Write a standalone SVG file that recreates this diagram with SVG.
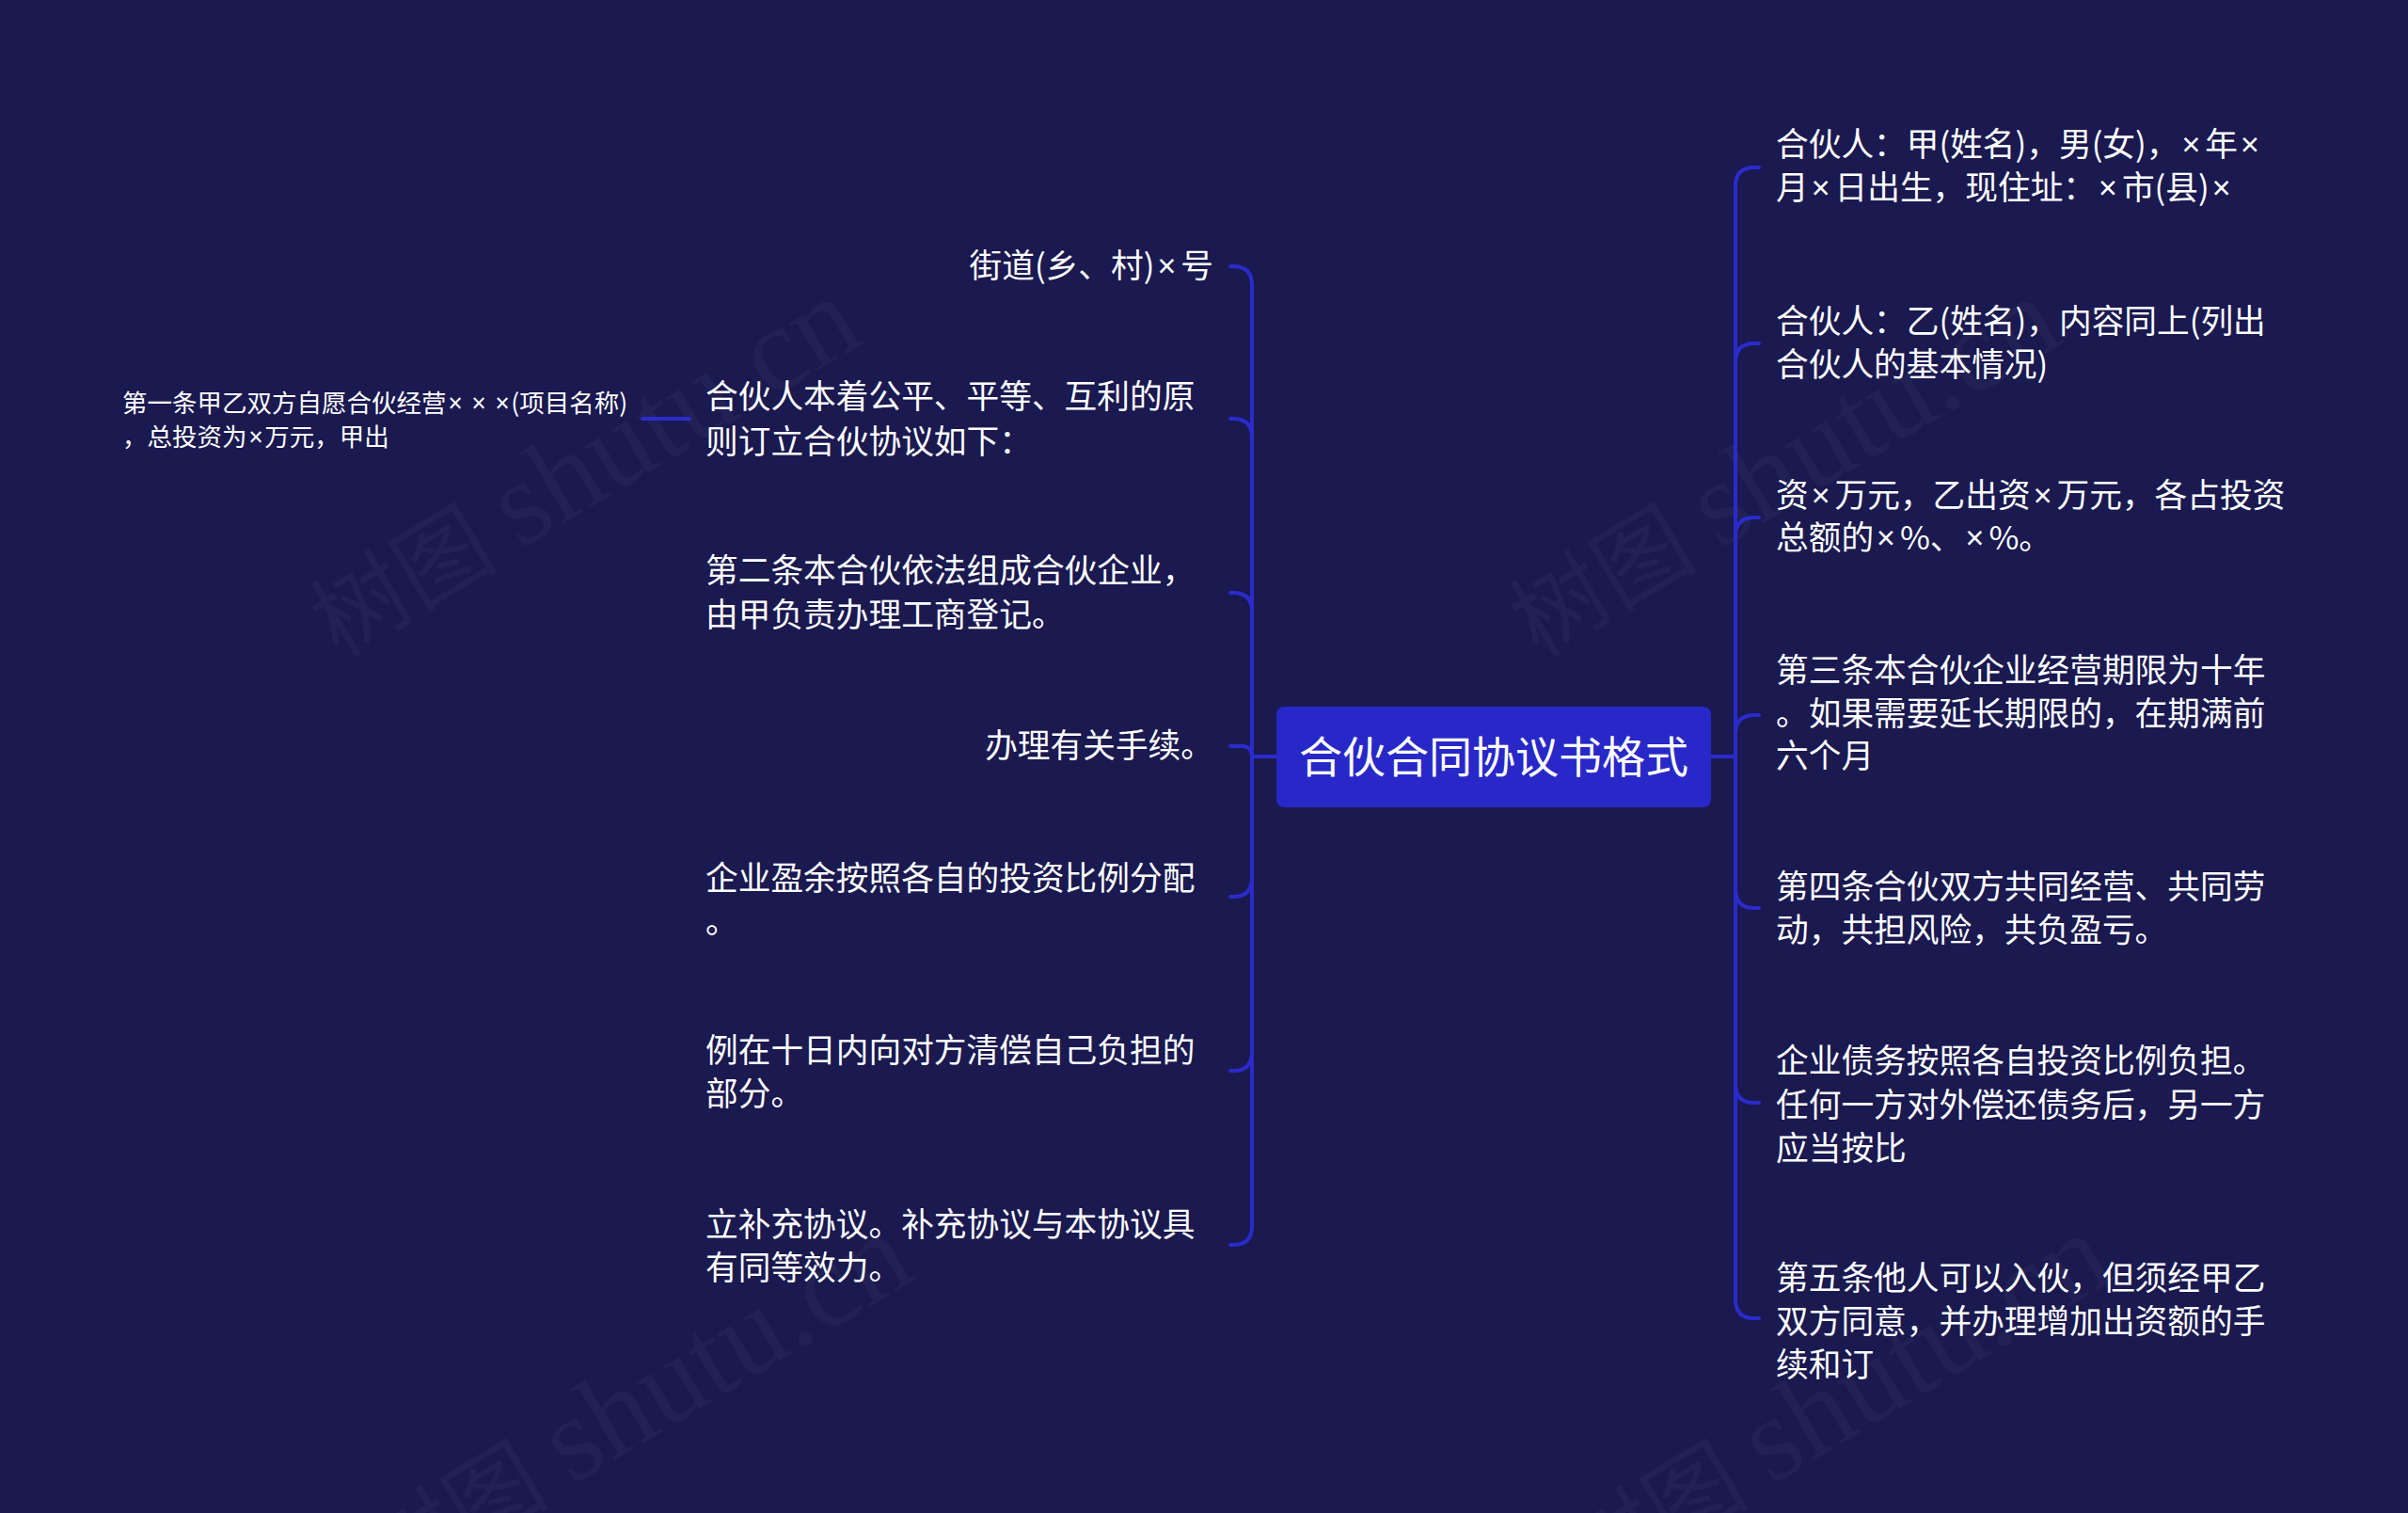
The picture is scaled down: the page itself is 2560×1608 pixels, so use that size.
<svg xmlns="http://www.w3.org/2000/svg" width="2560" height="1608" viewBox="0 0 2560 1608">
<style>
.bg{fill:#1a1950}
.wm{font-family:"Liberation Serif","Noto Sans CJK SC",serif;font-size:100px;fill:#ffffff;fill-opacity:0.035}
.wl{font-size:128px}
.root{fill:#2828c8}
.rt{font-family:"Noto Sans CJK SC","Noto Sans",sans-serif;font-size:46px;fill:#ffffff}
.t{font-family:"Noto Sans CJK SC","Noto Sans",sans-serif;font-size:34.7px;fill:#ffffff}
.s{font-family:"Noto Sans CJK SC","Noto Sans",sans-serif;font-size:26.5px;fill:#ffffff}
.x{font-family:"Noto Sans","Liberation Sans",sans-serif;letter-spacing:5px}
.xs{font-family:"Noto Sans","Liberation Sans",sans-serif;letter-spacing:1.5px}
.c{fill:none;stroke:#2b2bcc;stroke-width:4;stroke-linecap:round}
</style>
<rect class="bg" x="0" y="0" width="2560" height="1608"/>
<g id="watermark">
<text class="wm" transform="translate(360 700) rotate(-31)">树图 <tspan class="wl">shutu.cn</tspan></text>
<text class="wm" transform="translate(1635 700) rotate(-31)">树图 <tspan class="wl">shutu.cn</tspan></text>
<text class="wm" transform="translate(415 1695) rotate(-31)">树图 <tspan class="wl">shutu.cn</tspan></text>
<text class="wm" transform="translate(1690 1695) rotate(-31)">树图 <tspan class="wl">shutu.cn</tspan></text>
</g>
<g id="connectors">
<path class="c" d="M1357 804 H1331"/>
<path class="c" d="M1819 804 H1845"/>
<path class="c" d="M1331 804 V303 Q1331 283 1311 283 H1308"/>
<path class="c" d="M1331 804 V465 Q1331 445 1311 445 H1308"/>
<path class="c" d="M1331 804 V650 Q1331 630 1311 630 H1308"/>
<path class="c" d="M1331 804 Q1331 793 1320 793 H1308"/>
<path class="c" d="M1331 804 V933 Q1331 953 1311 953 H1308"/>
<path class="c" d="M1331 804 V1118 Q1331 1138 1311 1138 H1308"/>
<path class="c" d="M1331 804 V1303 Q1331 1323 1311 1323 H1308"/>
<path class="c" d="M1845 804 V198 Q1845 178 1865 178 H1870"/>
<path class="c" d="M1845 804 V385 Q1845 365 1865 365 H1870"/>
<path class="c" d="M1845 804 V570 Q1845 550 1865 550 H1870"/>
<path class="c" d="M1845 804 V780 Q1845 760 1865 760 H1870"/>
<path class="c" d="M1845 804 V945 Q1845 965 1865 965 H1870"/>
<path class="c" d="M1845 804 V1152 Q1845 1172 1865 1172 H1870"/>
<path class="c" d="M1845 804 V1381 Q1845 1401 1865 1401 H1870"/>
<path class="c" d="M733 445 H683"/>
</g>
<g id="root">
<rect class="root" x="1357" y="751" width="462" height="107" rx="8"/>
<text class="rt" x="1588" y="821" text-anchor="middle">合伙合同协议书格式</text>
</g>
<g id="r1"><text class="t" x="1888" y="166">合伙人：甲(姓名)，男(女)，<tspan class="x" dx="3">×</tspan>年<tspan class="x" dx="3">×</tspan></text><text class="t" x="1888" y="212">月<tspan class="x" dx="3">×</tspan>日出生，现住址：<tspan class="x" dx="3">×</tspan>市(县)<tspan class="x" dx="3">×</tspan></text></g>
<g id="r2"><text class="t" x="1888" y="354">合伙人：乙(姓名)，内容同上(列出</text><text class="t" x="1888" y="400">合伙人的基本情况)</text></g>
<g id="r3"><text class="t" x="1888" y="539">资<tspan class="x" dx="3">×</tspan>万元，乙出资<tspan class="x" dx="3">×</tspan>万元，各占投资</text><text class="t" x="1888" y="584">总额的<tspan class="x" dx="3">×</tspan>%、<tspan class="x" dx="3">×</tspan>%。</text></g>
<g id="r4"><text class="t" x="1888" y="725">第三条本合伙企业经营期限为十年</text><text class="t" x="1888" y="771">。如果需要延长期限的，在期满前</text><text class="t" x="1888" y="816">六个月</text></g>
<g id="r5"><text class="t" x="1888" y="955">第四条合伙双方共同经营、共同劳</text><text class="t" x="1888" y="1001">动，共担风险，共负盈亏。</text></g>
<g id="r6"><text class="t" x="1888" y="1140">企业债务按照各自投资比例负担。</text><text class="t" x="1888" y="1187">任何一方对外偿还债务后，另一方</text><text class="t" x="1888" y="1233">应当按比</text></g>
<g id="r7"><text class="t" x="1888" y="1371">第五条他人可以入伙，但须经甲乙</text><text class="t" x="1888" y="1417">双方同意，并办理增加出资额的手</text><text class="t" x="1888" y="1463">续和订</text></g>
<g id="l1"><text class="t" x="1290" y="295" text-anchor="end">街道(乡、村)<tspan class="x" dx="3">×</tspan>号</text></g>
<g id="l2"><text class="t" x="750" y="434">合伙人本着公平、平等、互利的原</text><text class="t" x="750" y="482">则订立合伙协议如下：</text></g>
<g id="l2c"><text class="s" x="130" y="438">第一条甲乙双方自愿合伙经营<tspan class="xs" dx="2">× × ×</tspan>(项目名称)</text><text class="s" x="130" y="474">，总投资为<tspan class="xs" dx="2">×</tspan>万元，甲出</text></g>
<g id="l3"><text class="t" x="750" y="619">第二条本合伙依法组成合伙企业，</text><text class="t" x="750" y="666">由甲负责办理工商登记。</text></g>
<g id="l4"><text class="t" x="1290" y="805" text-anchor="end">办理有关手续。</text></g>
<g id="l5"><text class="t" x="750" y="946">企业盈余按照各自的投资比例分配</text><text class="t" x="750" y="992">。</text></g>
<g id="l6"><text class="t" x="750" y="1129">例在十日内向对方清偿自己负担的</text><text class="t" x="750" y="1175">部分。</text></g>
<g id="l7"><text class="t" x="750" y="1314">立补充协议。补充协议与本协议具</text><text class="t" x="750" y="1360">有同等效力。</text></g>
</svg>
